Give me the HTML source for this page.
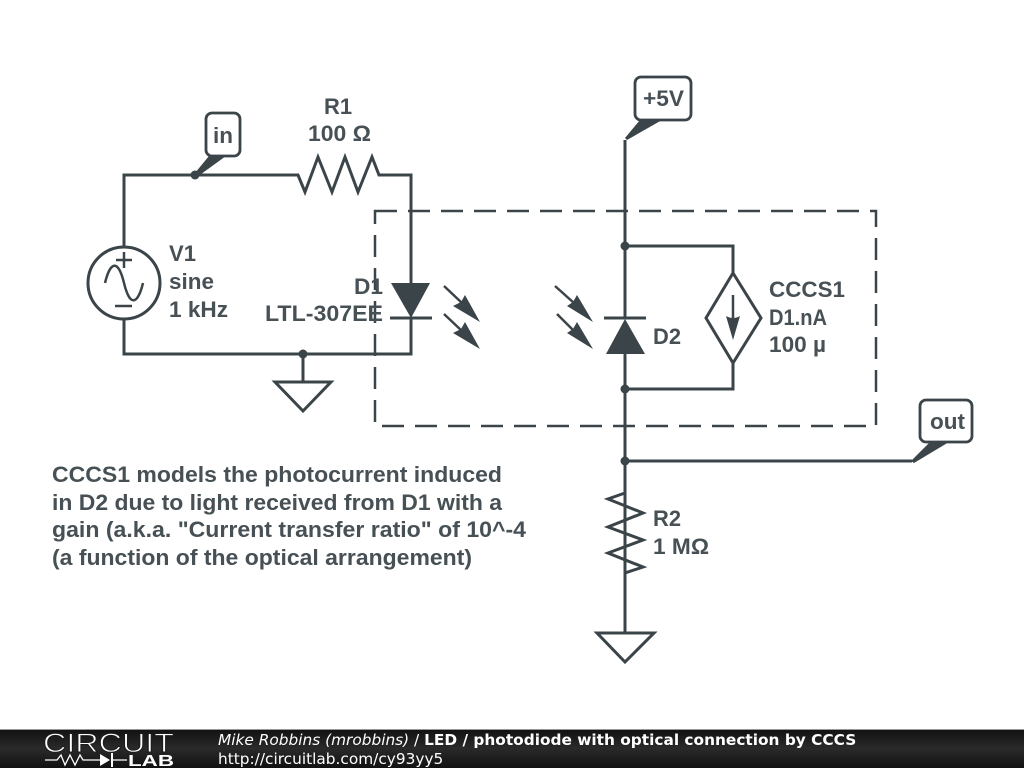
<!DOCTYPE html>
<html><head><meta charset="utf-8"><style>
html,body{margin:0;padding:0;background:#fff;width:1024px;height:768px;overflow:hidden}
svg{display:block}
.t{font-family:"Liberation Sans",Arial,sans-serif;font-size:22.5px;font-weight:bold;fill:#475055}
.f{font-family:"DejaVu Sans",sans-serif;font-size:15.35px;fill:#fff}
</style></head><body>
<svg width="1024" height="768" viewBox="0 0 1024 768" xmlns="http://www.w3.org/2000/svg">
<defs><linearGradient id="g" x1="0" y1="0" x2="0" y2="1"><stop offset="0" stop-color="#111"/><stop offset=".5" stop-color="#2a2a2a"/><stop offset="1" stop-color="#111"/></linearGradient></defs>
<g fill="none" stroke="#3b4449" stroke-width="3">
<path d="M124 247V175H298L305 192L318 157L332 192L345 157L358 192L372 157L379 175H411V283M411 318V354H124V319"/>
<path d="M303 354V382M275 382H331L303 411Z"/>
<circle cx="124" cy="283" r="36"/>
<path d="M105 283C110 262 118 258 124 283S138 304 143 283M124 252V268M116 260H132M115 306H132" stroke-width="2.5"/>
<path d="M625 140V318M625 354V632M597 633H654L625 662Z"/>
<path d="M625 246H733V273M733 363V389H625M733 273L761 318L733 363L706 318Z"/>
<path d="M625 461H912"/>
<path d="M625 461V493L608 499L643 513L608 527L643 540L608 553L643 567L625 573V632"/>
<path d="M390 318H432M604 318H646"/>
<path d="M444 286L462 303M444 314L462 331M555 286L574 303M557 314L574 331" stroke-width="2.5"/>
<path d="M733 295V318" stroke-width="2.5"/>
<rect x="375" y="211" width="501" height="215" stroke-dasharray="22 11" stroke-width="2.5"/>
<rect x="206" y="113" width="34" height="43" rx="6" stroke-width="2.8"/>
<rect x="635" y="77" width="56" height="43" rx="6" stroke-width="2.8"/>
<rect x="920" y="400" width="52" height="42" rx="6" stroke-width="2.8"/>
</g>
<g fill="#3b4449">
<path d="M391 283H430L411 318Z"/>
<path d="M606 354H645L625 319Z"/>
<path d="M480 322L465 295L461 302L453 306ZM480 349L465 322L461 329L453 333ZM593 322L577 295L573 302L567 306ZM593 349L577 322L573 329L567 333Z"/>
<path d="M726 316Q733 320 740 316L733 340Z"/>
<circle cx="195" cy="175" r="4.5"/><circle cx="303" cy="354" r="4.5"/><circle cx="625" cy="246" r="4.5"/><circle cx="625" cy="389" r="4.5"/><circle cx="625" cy="461" r="4.5"/>
<path d="M195 173L209 156H226L197 177Z"/>
<path d="M625 138L640 120H662L627 140Z"/>
<path d="M911 461L930 442H949L914 463Z"/>
</g>
<g class="t">
<text x="213" y="143" textLength="20" lengthAdjust="spacingAndGlyphs">in</text>
<text x="643" y="106" textLength="41" lengthAdjust="spacingAndGlyphs">+5V</text>
<text x="930" y="429" textLength="35" lengthAdjust="spacingAndGlyphs">out</text>
<text x="324" y="114" textLength="28" lengthAdjust="spacingAndGlyphs">R1</text>
<text x="308" y="141" textLength="63" lengthAdjust="spacingAndGlyphs">100 Ω</text>
<text x="169" y="261" textLength="27" lengthAdjust="spacingAndGlyphs">V1</text>
<text x="169" y="289" textLength="45" lengthAdjust="spacingAndGlyphs">sine</text>
<text x="169" y="317" textLength="59" lengthAdjust="spacingAndGlyphs">1 kHz</text>
<text x="354" y="294" textLength="29" lengthAdjust="spacingAndGlyphs">D1</text>
<text x="265" y="321" textLength="118" lengthAdjust="spacingAndGlyphs">LTL-307EE</text>
<text x="653" y="344" textLength="28" lengthAdjust="spacingAndGlyphs">D2</text>
<text x="769" y="297" textLength="76" lengthAdjust="spacingAndGlyphs">CCCS1</text>
<text x="769" y="325" textLength="58" lengthAdjust="spacingAndGlyphs">D1.nA</text>
<text x="769" y="352" textLength="57" lengthAdjust="spacingAndGlyphs">100 µ</text>
<text x="653" y="526" textLength="28" lengthAdjust="spacingAndGlyphs">R2</text>
<text x="653" y="554" textLength="56" lengthAdjust="spacingAndGlyphs">1 MΩ</text>
<text x="52" y="482" textLength="450" lengthAdjust="spacingAndGlyphs">CCCS1 models the photocurrent induced</text>
<text x="52" y="510" textLength="450" lengthAdjust="spacingAndGlyphs">in D2 due to light received from D1 with a</text>
<text x="52" y="537" textLength="474" lengthAdjust="spacingAndGlyphs">gain (a.k.a. "Current transfer ratio" of 10^-4</text>
<text x="52" y="565" textLength="420" lengthAdjust="spacingAndGlyphs">(a function of the optical arrangement)</text>
</g>
<rect x="0" y="729" width="1024" height="39" fill="url(#g)"/>
<rect x="0" y="729" width="1024" height="1" fill="#999"/>
<text x="43" y="752" font-family="Liberation Sans,sans-serif" font-size="27" fill="#fff" stroke="#1c1c1c" stroke-width=".9" textLength="131" lengthAdjust="spacingAndGlyphs">CIRCUIT</text>
<text x="128" y="766" font-family="Liberation Sans,sans-serif" font-size="15.5" font-weight="bold" fill="#fff" textLength="46" lengthAdjust="spacingAndGlyphs">LAB</text>
<path d="M45 760H57L61 755L65 765L70 755L75 765L80 755L83 760H100M112 760H127" fill="none" stroke="#fff" stroke-width="1.3"/>
<path d="M100 754V766L110 760Z M111 753H113V767H111Z" fill="#fff"/>
<text class="f" x="218" y="745"><tspan font-style="italic">Mike Robbins (mrobbins)</tspan> / <tspan font-weight="bold">LED / photodiode with optical connection by CCCS</tspan></text>
<text class="f" x="218" y="764">http://circuitlab.com/cy93yy5</text>
</svg>
</body></html>
